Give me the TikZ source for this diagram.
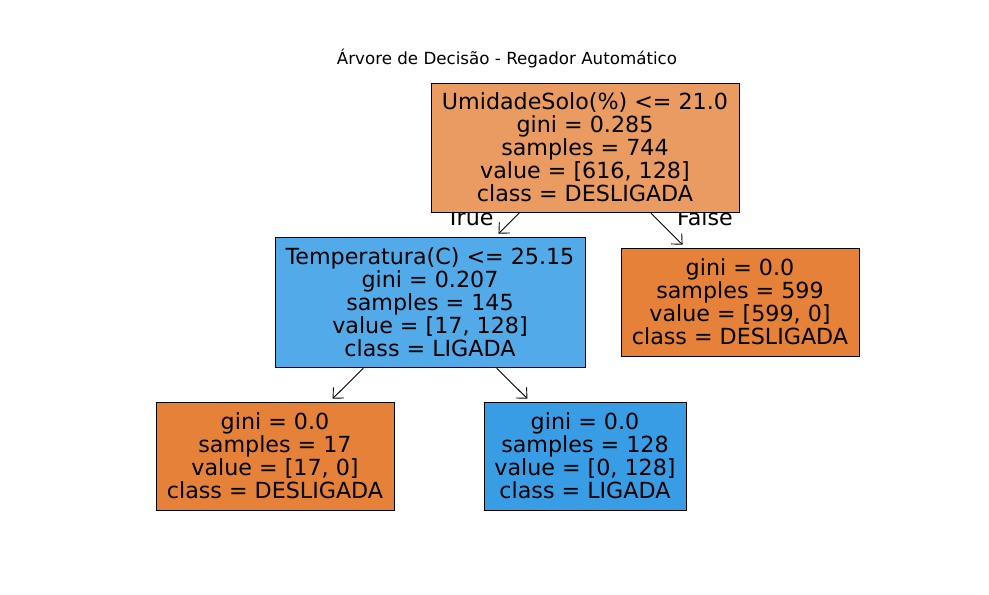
\documentclass[tikz,border=0pt]{standalone}
\usepackage{fontspec}
\setmainfont{DejaVu Sans}
\usetikzlibrary{arrows.meta}
\definecolor{rootc}{HTML}{EA9B62}
\definecolor{tempc}{HTML}{53AAE8}
\definecolor{orangec}{HTML}{E58139}
\definecolor{bluec}{HTML}{399DE5}
\begin{document}
\begin{tikzpicture}[x=1pt,y=-1pt,
  treebox/.style={draw=black, line width=0.9pt, inner sep=0pt, align=center,
    font=\fontsize{22.2}{23}\selectfont},
  edgelbl/.style={anchor=base, inner sep=0pt, font=\fontsize{22.2}{23}\selectfont},
  arr/.style={-{Straight Barb[length=8pt,width=15pt,line width=0.9pt]}, line width=0.9pt, shorten >=4pt, shorten <=1pt}]
\useasboundingbox[fill=white] (0,0) rectangle (989,595);
\node[anchor=base, inner sep=0pt, font=\fontsize{16.7}{20}\selectfont] (title) at (507,64) {Árvore de Decisão - Regador Automático};
\node[edgelbl] (truelbl) at (470,225) {True};
\node[edgelbl] (falselbl) at (705,225) {False};
\node[treebox, fill=rootc, minimum width=308pt, minimum height=129pt] (root) at (585,147.5)
  {UmidadeSolo(\%) <= 21.0\\gini = 0.285\\samples = 744\\value = [616, 128]\\class = DESLIGADA};
\node[treebox, fill=tempc, minimum width=310pt, minimum height=130pt] (temp) at (430,302)
  {Temperatura(C) <= 25.15\\gini = 0.207\\samples = 145\\value = [17, 128]\\class = LIGADA};
\node[treebox, fill=orangec, minimum width=238pt, minimum height=108pt] (rleaf) at (740,302)
  {gini = 0.0\\samples = 599\\value = [599, 0]\\class = DESLIGADA};
\node[treebox, fill=orangec, minimum width=238pt, minimum height=108pt] (lleaf) at (275,456)
  {gini = 0.0\\samples = 17\\value = [17, 0]\\class = DESLIGADA};
\node[treebox, fill=bluec, minimum width=202pt, minimum height=108pt] (bleaf) at (585,456)
  {gini = 0.0\\samples = 128\\value = [0, 128]\\class = LIGADA};
\draw[arr] (root) -- (temp);
\draw[arr] (root) -- (rleaf);
\draw[arr] (temp) -- (lleaf);
\draw[arr] (temp) -- (bleaf);
\end{tikzpicture}
\end{document}
